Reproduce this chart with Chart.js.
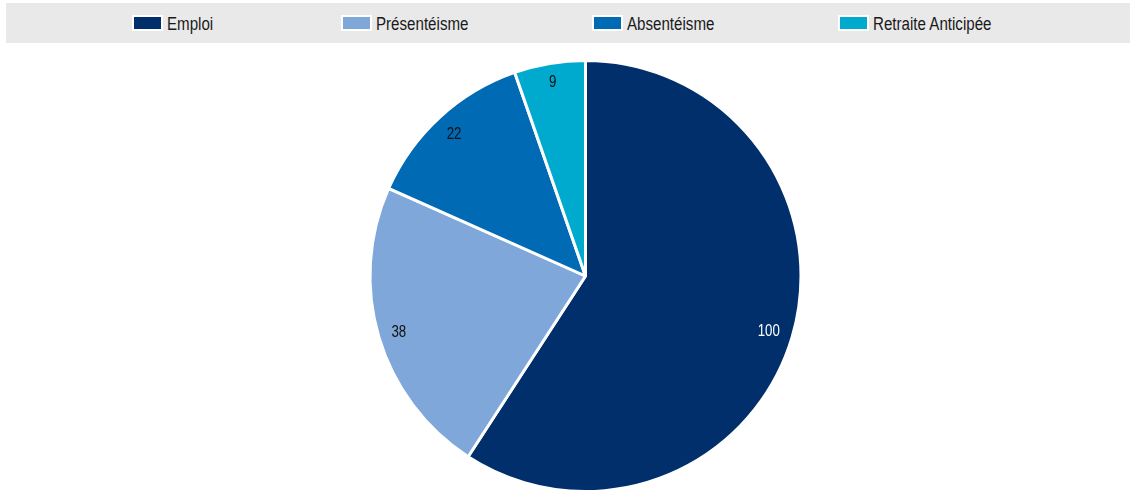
<!DOCTYPE html>
<html>
<head>
<meta charset="utf-8">
<script src="https://cdn.jsdelivr.net/npm/chart.js@4.4.1/dist/chart.umd.min.js"></script>
<style>
    html, body {
        margin: 0;
        padding: 0;
        background: #ffffff;
        font-family: "Liberation Sans", Arial, sans-serif;
    }
    #wrap {
        position: relative;
        width: 1130px;
        height: 493px;
        overflow: hidden;
    }
    #legend {
        position: absolute;
        top: 3px;
        left: 6px;
        width: 1124px;
        height: 40px;
        background: #e9e9e9;
        z-index: 2;
    }
    .item {
        position: absolute;
        top: 12px;
        height: 16px;
        display: flex;
        align-items: center;
        color: #1a1a1a;
        white-space: nowrap;
    }
    .swatch {
        width: 27px;
        height: 12px;
        border: 2px solid #ffffff;
        margin-right: 4px;
    }
    /* the original uses a narrow face, squeeze a regular one */
    .item span {
        display: inline-block;
        font-size: 18px;
        line-height: 18px;
        transform: scaleX(0.84);
        transform-origin: left center;
        position: relative;
        top: 1px;
    }
    #chart {
        position: absolute;
        top: 0;
        left: 0;
    }
</style>
</head>
<body>
<div id="wrap">
    <div id="legend"></div>
    <canvas id="chart" width="1130" height="493"></canvas>
</div>
<script>
    const labels = ['Emploi', 'Présentéisme', 'Absentéisme', 'Retraite Anticipée'];
    const values = [100, 38, 22, 9];
    const colors = ['#002f6c', '#7fa7d9', '#006ab5', '#00aace'];
    const labelColors = ['#ffffff', '#111111', '#111111', '#111111'];

    // legend columns, left edge of each swatch (relative to grey band)
    const legendX = [126, 335, 586, 832];

    const legendEl = document.getElementById('legend');
    labels.forEach((name, i) => {
        const item = document.createElement('div');
        item.className = 'item';
        item.style.left = legendX[i] + 'px';
        const sw = document.createElement('div');
        sw.className = 'swatch';
        sw.style.background = colors[i];
        const txt = document.createElement('span');
        txt.textContent = name;
        item.appendChild(sw);
        item.appendChild(txt);
        legendEl.appendChild(item);
    });

    // values written near the outer edge of each slice
    const sliceLabels = {
        id: 'sliceLabels',
        afterDatasetsDraw(chart) {
            const ctx = chart.ctx;
            const meta = chart.getDatasetMeta(0);
            const squeeze = 0.78;
            ctx.save();
            ctx.font = '17px "Liberation Sans", Arial, sans-serif';
            ctx.textAlign = 'center';
            ctx.textBaseline = 'middle';
            meta.data.forEach((arc, i) => {
                const p = arc.getProps(['x', 'y', 'startAngle', 'endAngle', 'outerRadius'], true);
                const mid = (p.startAngle + p.endAngle) / 2;
                const txt = String(values[i]);
                const w = ctx.measureText(txt).width * squeeze;
                const cx = Math.cos(mid), cy = Math.sin(mid);
                const half = Math.abs(cx) * w / 2 + Math.abs(cy) * 6;
                const r = p.outerRadius - 12 - half;
                ctx.save();
                ctx.translate(p.x + cx * r, p.y + cy * r + 1);
                ctx.scale(squeeze, 1);
                ctx.fillStyle = labelColors[i];
                ctx.fillText(txt, 0, 0);
                ctx.restore();
            });
            ctx.restore();
        }
    };

    new Chart(document.getElementById('chart').getContext('2d'), {
        type: 'pie',
        data: {
            labels: labels,
            datasets: [{
                data: values,
                backgroundColor: colors,
                borderColor: '#ffffff',
                borderWidth: 3,
                hoverOffset: 0,
            }]
        },
        options: {
            responsive: false,
            animation: false,
            layout: {
                padding: {top: 59, left: 41, right: 0, bottom: -3}
            },
            plugins: {
                legend: {display: false},
                tooltip: {enabled: false}
            }
        },
        plugins: [sliceLabels]
    });
</script>
</body>
</html>
